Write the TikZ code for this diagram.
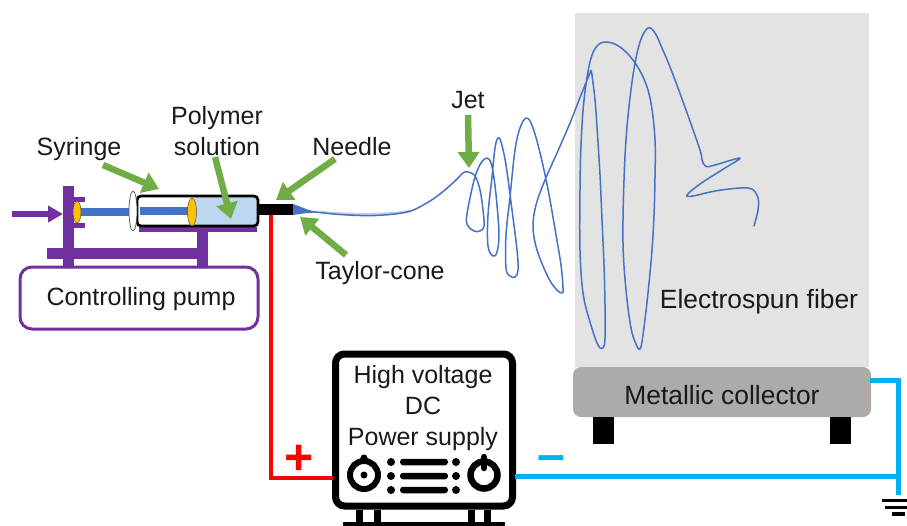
\documentclass[tikz,border=0pt]{standalone}
\usepackage{fontspec}
\setmainfont{Liberation Sans}
\usetikzlibrary{arrows.meta,shapes.geometric}
\definecolor{pumppurple}{HTML}{7030A0}
\definecolor{callgreen}{HTML}{70AD47}
\definecolor{wireblue}{HTML}{00B0F0}
\definecolor{jetblue}{HTML}{4472C4}
\definecolor{liquid}{HTML}{BDD7EE}
\definecolor{amberpart}{HTML}{FFC000}
\definecolor{panelgray}{HTML}{E3E3E3}
\definecolor{collgray}{HTML}{AEAAA8}
\tikzset{
  label text/.style={font=\fontsize{25}{31}\selectfont,text=black!90,align=center,inner sep=0},
  wide label/.style={font=\fontsize{26.4}{31}\selectfont,text=black!90,align=center,inner sep=0},
  callout/.style={callgreen,line width=6.5pt,-{Triangle[length=16pt,width=21pt]}},
  purplebar/.style={fill=pumppurple,draw=none,inner sep=0,outer sep=0},
  blackbar/.style={fill=black,draw=none,inner sep=0,outer sep=0},
  redwire/.style={red,line width=4.6pt},
  bluewire/.style={wireblue,line width=5pt},
  jetline/.style={jetblue,line width=1.5pt,line join=round,line cap=round},
  blackdot/.style={circle,fill=black,draw=none,minimum size=8pt,inner sep=0},
  panelbar/.style={fill=black,draw=none,rounded corners=3pt,minimum width=48pt,minimum height=6.5pt,inner sep=0},
  box at/.style args={#1x#2}{minimum width=#1pt,minimum height=#2pt},
}
\begin{document}
\begin{tikzpicture}[x=1pt,y=-1pt]
\useasboundingbox (0,0) rectangle (907,525);
% grey panel
\node[fill=panelgray,draw=none,inner sep=0,box at=294x354] (panel) at (722,190) {};
% collector
\node[fill=collgray,draw=none,rounded corners=8pt,inner sep=0,box at=298x50] (collector) at (722,392) {};
\node[blackbar,box at=21x27] (legA) at (603.5,430.5) {};
\node[blackbar,box at=21x27] (legB) at (840.5,430.5) {};
% purple frame
\node[purplebar,box at=11x82] (post) at (68.5,227) {};
\node[purplebar,box at=11x5] (tabA) at (79.5,199) {};
\node[purplebar,box at=11x5] (tabB) at (79.5,225) {};
\node[purplebar,box at=118x5] (cradle) at (198,229.5) {};
\node[purplebar,box at=11x36] (postB) at (202.5,250) {};
\node[purplebar,box at=161x11] (rail) at (127.5,253.5) {};
\node[draw=pumppurple,line width=3pt,fill=white,rounded corners=12pt,inner sep=0,box at=238x62] (pump) at (139,298) {};
\node[label text] at (141,299) (pumplabel) {Controlling pump};
% plunger and barrel
\node[fill=jetblue,draw=none,inner sep=0,box at=50x8] (rodA) at (106,212) {};
\node[ellipse,fill=amberpart,draw=black!70,line width=.5pt,inner sep=0,minimum width=8pt,minimum height=22pt] (thumb) at (77,212) {};
\node[fill=white,draw=none,rounded corners=3pt,inner sep=0,box at=121x30] (barrelfill) at (197.5,211) {};
\node[fill=liquid,draw=none,rounded corners=3pt,inner sep=0,box at=64x28] (liquidfill) at (225,211) {};
\node[fill=jetblue,draw=none,inner sep=0,box at=48x8] (rodB) at (164,211) {};
\node[draw=black,line width=2.7pt,rounded corners=4pt,inner sep=0,box at=121x30] (barrel) at (197.5,211) {};
\node[ellipse,fill=white,draw=black!70,line width=.7pt,inner sep=0,minimum width=8pt,minimum height=40pt] (flange) at (133,211) {};
\node[ellipse,fill=amberpart,draw=black!70,line width=.5pt,inner sep=0,minimum width=9pt,minimum height=28pt] (piston) at (192,212) {};
\node[blackbar,box at=35x11] (needle) at (275.5,209.5) {};
% purple push arrow
\coordinate (pushstart) at (12,214);
\draw[pumppurple,line width=5.5pt,-{Triangle[length=15pt,width=16pt]}] (pushstart) -- (pushstart -| post.west);
% Taylor cone and jet
\fill[jetblue] (293,204) .. controls (300,206) and (306,210) .. (316,211.5) -- (316,212.5) .. controls (306,213) and (300,214) .. (293,215) -- cycle;
\draw[jetblue!35,line width=2.4pt,line cap=round] (320,212) .. controls (350,215) and (390,215) .. (410,211);
\draw[jetline] plot[smooth,tension=.6] coordinates {
(312,211.5)(340,214.5)(375,215.5)(407,212)(425,204)(440,194)(455,181)(463,173)(468,172)
(475,176)(480,190)(483,210)(484,226)(480,231)(474,231)(468,226)(466.5,218)(470,198)(475,177)(481,163)
(487,158)(491,163)(494,178)(497,205)(499,235)(497,252)(493,256)(488,246)(488,215)(492,177)(495,148)(498,138)(501,142)
(506,165)(512,210)(517,250)(518,270)(515,277)(510,276)(506,268)(506,235)(510,197)(515,150)(520,128)(526,118)(531,123)
(537,141)(544,170)(550,200)(556,235)(561,265)(563,288)(562,293)(556,289)(548,277)(537,250)(533,227)(536,205)(545,180)(557,153)(570,123)(581,95)(590,73)(591,71)(592,75)
(595,100)(597,127)(600,175)(602,220)(604,265)(605,305)(605,338)(603,348)(598,345)(590,322)(583,293)(580,250)(580,190)(581,145)(584,100)(590,62)(597,46)(607,42)(620,47)(633,60)
(644,79)(651,103)(655,140)(655,177)(654,215)(652,250)(648,293)(643,335)(640,349)(636,344)(631,328)(626,290)(623,243)(624,180)(627,127)(633,75)(640,42)(648,28)(655,33)(662,48)
(672,72)(686,110)(700,150)(702,160)(706,166.5)(715,165)(740,158)(725,168)(700,184)(687,195)(693,196)(715,191)(740,188)(752,189)(758,198)(758,210)(754,226)};
% callouts
\node[label text] (syringelabel) at (79,149) {Syringe};
\node[label text] (polymerlabel) at (217,131) {Polymer\\solution};
\node[label text] (needlelabel) at (352,147) {Needle};
\node[label text] (taylorlabel) at (380,273) {Taylor-cone};
\node[label text] (jetlabel) at (468,100) {Jet};
\node[wide label] (fiberlabel) at (759,302) {Electrospun fiber};
\node[wide label] (collectorlabel) at (722,395) {Metallic collector};
\coordinate (syringetail) at (103,165);
\coordinate (syringetip) at (159,189);
\coordinate (polymertail) at (215,157);
\coordinate (polymertip) at (231,219);
\coordinate (needletail) at (335,159);
\coordinate (needletip) at (276,200);
\coordinate (taylortail) at (346,255);
\coordinate (taylortip) at (300,217);
\coordinate (jettail) at (468,115);
\coordinate (jettip) at (469,168);
\draw[callout] (syringetail) -- (syringetip);
\draw[callout] (polymertail) -- (polymertip);
\draw[callout] (needletail) -- (needletip);
\draw[callout] (taylortail) -- (taylortip);
\draw[callout] (jettail) -- (jettip);
% power supply
\node[draw=black,line width=7pt,fill=white,rounded corners=9pt,inner sep=0,box at=177x152] (psu) at (424,430) {};
\node[label text] (psulabel) at (423,408) {High voltage\\DC\\Power supply};
\node[circle,draw=black,line width=6pt,fill=white,inner sep=0,minimum size=28pt] (knobL) at (364,475) {};
\node[circle,fill=black,draw=none,inner sep=0,minimum size=7pt] (knobLdot) at (364,475) {};
\fill[black] (360,461) rectangle (368,458) (364,458) circle (3.5pt);
\node[circle,draw=black,line width=6.5pt,fill=white,inner sep=0,minimum size=27pt] (knobR) at (484,475) {};
\draw[black,line width=6.5pt,line cap=round] (484,457) -- (484,468);
\node[blackdot] (d1) at (391,462) {};
\node[blackdot] (d2) at (391,476) {};
\node[blackdot] (d3) at (391,490) {};
\node[blackdot] (d4) at (456,462) {};
\node[blackdot] (d5) at (456,476) {};
\node[blackdot] (d6) at (456,490) {};
\node[panelbar] (b1) at (424,462) {};
\node[panelbar] (b2) at (424,476) {};
\node[panelbar] (b3) at (424,490) {};
\draw[black,line width=7pt] (359.5,510) -- (359.5,525) (377.5,510) -- (377.5,525) (471.5,510) -- (471.5,525) (487.5,510) -- (487.5,525);
\node[blackbar,box at=162x5] (psubase) at (424,524) {};
% wires
\coordinate (needletap) at (271,215);
\coordinate (psuredin) at (333,478);
\draw[redwire] (needletap) |- (psuredin);
\node[inner sep=0,text=red,font=\fontsize{50}{50}\selectfont\bfseries] (plus) at (299,460) {+};
\node[inner sep=0,text=wireblue,font=\fontsize{50}{50}\selectfont\bfseries] (minus) at (551,464) {–};
\coordinate (psuout) at (515,476);
\coordinate (groundtop) at (898.5,495);
\coordinate (collout) at (870,380);
\draw[bluewire] (psuout) -- (psuout -| groundtop);
\draw[bluewire] (collout) -| (groundtop);
% ground
\coordinate (g1) at (895,500.5);
\coordinate (g2) at (896,507);
\coordinate (g3) at (898,514);
\draw[black,line width=3pt] (882,500.5) -- (g1) -- (907,500.5);
\draw[black,line width=3pt] (885,507) -- (g2) -- (907,507);
\draw[black,line width=3.5pt] (892,514) -- (g3) -- (905,514);
\end{tikzpicture}
\end{document}
